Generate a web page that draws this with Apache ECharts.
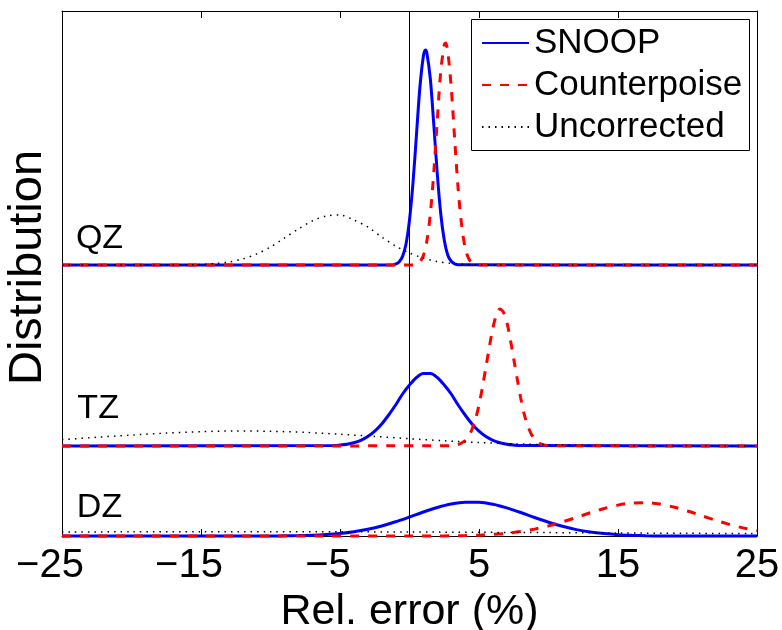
<!DOCTYPE html>
<html>
<head>
<meta charset="utf-8">
<script src="https://cdn.jsdelivr.net/npm/echarts@6/dist/echarts.min.js"></script>
<style>
  html, body { margin: 0; padding: 0; background: #fff; }
  #chart { width: 782px; height: 630px; }
</style>
</head>
<body>
<div id="chart"></div>
<script>
// basis sets, stacked bottom (DZ) to top (QZ); offset = baseline of each block
const bases = ["QZ", "TZ", "DZ"];
const baseOffsets = [271, 90, 0];
const methods = ["SNOOP", "Counterpoise", "Uncorrected"];

// QZ curves (x = rel. error %, y = distribution height)
const qzSnoopX = [-25, -1.25, -1, -0.75, -0.5, -0.25, 0, 0.25, 0.5, 0.75, 1, 1.15, 1.25, 1.5, 1.75, 2, 2.25, 2.5, 2.75, 3, 3.25, 3.5, 25];
const qzSnoopY = [0, 0, 0.9, 3, 8.6, 21, 45, 82, 130, 178, 209, 215, 212, 186, 140, 91, 51, 25, 10, 3.7, 1.2, 0.3, 0];
const qzCpX = [-25, 0.25, 0.5, 0.75, 1, 1.25, 1.5, 1.75, 2, 2.25, 2.5, 2.6, 2.75, 3, 3.25, 3.5, 3.75, 4, 4.25, 4.5, 4.75, 5, 25];
const qzCpY = [0, 0, 1, 3.3, 9.6, 24, 51, 93, 145, 194, 220, 222, 214, 178, 126, 76, 40, 17.5, 6.6, 2.1, 0.6, 0, 0];
const qzUncX = [-25, -16, -15, -14, -13, -12, -11, -10, -9, -8, -7, -6, -5, -4, -3, -2, -1, 0, 1, 2, 3, 4, 5, 6, 25];
const qzUncY = [0, 0.2, 0.6, 1.4, 3, 6, 11, 18, 27, 36, 44, 49, 50, 45, 38, 28, 19, 12, 7, 3.5, 1.6, 0.7, 0.2, 0, 0];

// TZ curves
const tzSnoopX = [-25, -5.5, -5, -4.5, -4, -3.5, -3, -2.5, -2, -1.5, -1, -0.5, 0, 0.5, 1, 1.5, 2, 2.5, 3, 3.5, 4, 4.5, 5, 5.5, 6, 6.5, 7, 7.5, 8, 25];
const tzSnoopY = [0, 0.4, 0.9, 1.7, 3.2, 5.7, 9.4, 14.8, 22, 31, 41, 52, 61, 68.5, 72.5, 72.5, 68.5, 61, 52, 41, 31, 22, 14.8, 9.4, 5.7, 3.2, 1.7, 0.9, 0.4, 0];
const tzCpX = [-25, 3, 3.5, 4, 4.25, 4.5, 4.75, 5, 5.25, 5.5, 5.75, 6, 6.25, 6.5, 6.75, 7, 7.25, 7.5, 7.75, 8, 8.25, 8.5, 8.75, 9, 9.25, 9.5, 10, 25];
const tzCpY = [0, 0.25, 1.3, 5.3, 9.7, 16.8, 27, 41, 59, 79, 99.5, 118, 131, 137, 134, 124, 107, 87, 67, 48, 32, 20.5, 12.2, 6.8, 3.6, 1.8, 0.4, 0];
const tzUncX = [-25, -22.5, -20, -17.5, -15, -12.5, -10, -7.5, -5, -2.5, 0, 2.5, 5, 7.5, 10, 12.5, 15, 25];
const tzUncY = [6.4, 8.7, 10.9, 12.9, 14.3, 15, 14.7, 13.6, 11.7, 9.6, 7.3, 5.2, 3.5, 2.2, 1.3, 0.7, 0.4, 0];

// DZ curves
const dzSnoopX = [-25, -10, -9, -8, -7, -6, -5, -4, -3, -2, -1, 0, 1, 2, 3, 4, 5, 6, 7, 8, 9, 10, 11, 12, 13, 14, 15, 16, 17, 18, 25];
const dzSnoopY = [0, 0, 0.2, 0.4, 0.7, 1.4, 2.5, 4.2, 6.7, 10, 14.2, 19, 24, 28.5, 32, 33.8, 33.7, 31.7, 28.1, 23.5, 18.5, 13.8, 9.7, 6.4, 4, 2.4, 1.3, 0.7, 0.3, 0.1, 0];
const dzCpX = [-25, 2, 3, 4, 5, 6, 7, 8, 9, 10, 11, 12, 13, 14, 15, 16, 17, 18, 19, 20, 21, 22, 23, 24, 25];
const dzCpY = [0, 0, 0.2, 0.45, 0.87, 1.6, 2.7, 4.4, 6.9, 10.1, 14.1, 18.5, 23.2, 27.5, 30.9, 33, 33.3, 31.9, 29, 25, 20.4, 15.8, 11.6, 8.1, 5.3];
const dzUncX = [-25, -20, -15, -10, -5, 0, 5, 10, 15, 20, 25];
const dzUncY = [4, 4.2, 4.3, 4.3, 4.2, 4, 3.7, 3.4, 3, 2.7, 2.4];

const curves = {
  QZ: [[qzSnoopX, qzSnoopY], [qzCpX, qzCpY], [qzUncX, qzUncY]],
  TZ: [[tzSnoopX, tzSnoopY], [tzCpX, tzCpY], [tzUncX, tzUncY]],
  DZ: [[dzSnoopX, dzSnoopY], [dzCpX, dzCpY], [dzUncX, dzUncY]]
};

const xTicks = [-25, -15, -5, 5, 15, 25];

var FONT = "Liberation Sans, Arial, sans-serif";
var lineStyles = [
  { color: "#0000ff", width: 3, type: "solid" },
  { color: "#ff0000", width: 3, type: [9, 9] },
  { color: "#000000", width: 1.5, type: [1.5, 5] }
];
// where the basis name sits (x, height above its baseline)
var baseLabelAt = { QZ: [-22.3, 26], TZ: [-22.4, 37], DZ: [-22.3, 28] };

var chart = echarts.init(document.getElementById("chart"));

var series = [];
methods.forEach(function (m, mi) {
  bases.forEach(function (b, bi) {
    var xs = curves[b][mi][0], ys = curves[b][mi][1];
    var s = {
      name: m,
      type: "line",
      symbol: "none",
      smooth: 0.3,
      clip: false,
      lineStyle: lineStyles[mi],
      itemStyle: { color: lineStyles[mi].color },
      data: xs.map(function (x, i) { return [x, baseOffsets[bi] + ys[i]]; }),
      z: 2 + mi
    };
    if (mi === 0) {
      s.markPoint = {
        symbol: "circle",
        symbolSize: 0,
        silent: true,
        label: {
          show: true, position: "inside", formatter: b,
          fontSize: 34, color: "#000", fontFamily: FONT
        },
        data: [{ coord: [baseLabelAt[b][0], baseOffsets[bi] + baseLabelAt[b][1]] }]
      };
      if (bi === 0) {
        s.markLine = {
          silent: true,
          symbol: ["none", "none"],
          label: { show: false },
          lineStyle: { color: "#000", width: 1, type: "solid" },
          data: [{ xAxis: 0 }]
        };
      }
    }
    series.push(s);
  });
});

var option = {
  animation: false,
  textStyle: { fontFamily: FONT, color: "#000" },
  grid: { left: 62, right: 25, top: 11, bottom: 94, outerBoundsMode: "none", containLabel: false },
  graphic: [
    {
      type: "rect",
      z: 10,
      silent: true,
      shape: { x: 471.5, y: 19.5, width: 278, height: 131 },
      style: { fill: "#fff", stroke: "#000", lineWidth: 1 }
    }
  ],
  legend: {
    data: methods,
    orient: "vertical",
    left: 471,
    top: 20,
    z: 20,
    itemWidth: 47,
    itemHeight: 2,
    itemGap: 6,
    padding: [5, 7, 5, 10],
    borderWidth: 0,
    backgroundColor: "transparent",
    itemStyle: { opacity: 0 },
    textStyle: { fontSize: 35, lineHeight: 36, color: "#000", fontFamily: FONT }
  },
  xAxis: [
    {
      type: "value",
      min: -25,
      max: 25,
      interval: 10,
      name: "Rel. error (%)",
      nameLocation: "middle",
      nameGap: 47,
      nameTextStyle: { fontSize: 43, color: "#000", fontFamily: FONT },
      axisLine: { show: true, onZero: false, lineStyle: { color: "#000", width: 1 } },
      axisTick: { show: true, inside: true, length: 7, lineStyle: { color: "#000" } },
      axisLabel: {
        margin: 10,
        fontSize: 40,
        color: "#000",
        fontFamily: FONT,
        formatter: function (v) {
          if (xTicks.indexOf(v) < 0) return "";
          return v < 0 ? "{neg|\u2212" + Math.abs(v) + "}" : "{pos|" + v + "}";
        },
        rich: {
          neg: { fontSize: 40, color: "#000", fontFamily: FONT, padding: [0, 24, 0, 0] },
          pos: { fontSize: 40, color: "#000", fontFamily: FONT }
        }
      },
      splitLine: { show: false }
    },
    {
      type: "value",
      position: "top",
      min: -25,
      max: 25,
      interval: 10,
      axisLine: { show: true, onZero: false, lineStyle: { color: "#000", width: 1 } },
      axisTick: { show: true, inside: true, length: 7, lineStyle: { color: "#000" } },
      axisLabel: { show: false },
      splitLine: { show: false }
    }
  ],
  yAxis: [
    {
      type: "value",
      min: 0,
      max: 525,
      name: "Distribution",
      nameLocation: "middle",
      nameGap: 10,
      nameTextStyle: { fontSize: 47, color: "#000", fontFamily: FONT, padding: [0, 0, 0, 12] },
      axisLine: { show: true, onZero: false, lineStyle: { color: "#000", width: 1 } },
      axisTick: { show: false },
      axisLabel: { show: false },
      splitLine: { show: false }
    },
    {
      type: "value",
      position: "right",
      min: 0,
      max: 525,
      axisLine: { show: true, onZero: false, lineStyle: { color: "#000", width: 1 } },
      axisTick: { show: false },
      axisLabel: { show: false },
      splitLine: { show: false }
    }
  ],
  series: series
};

chart.setOption(option);
</script>
</body>
</html>
